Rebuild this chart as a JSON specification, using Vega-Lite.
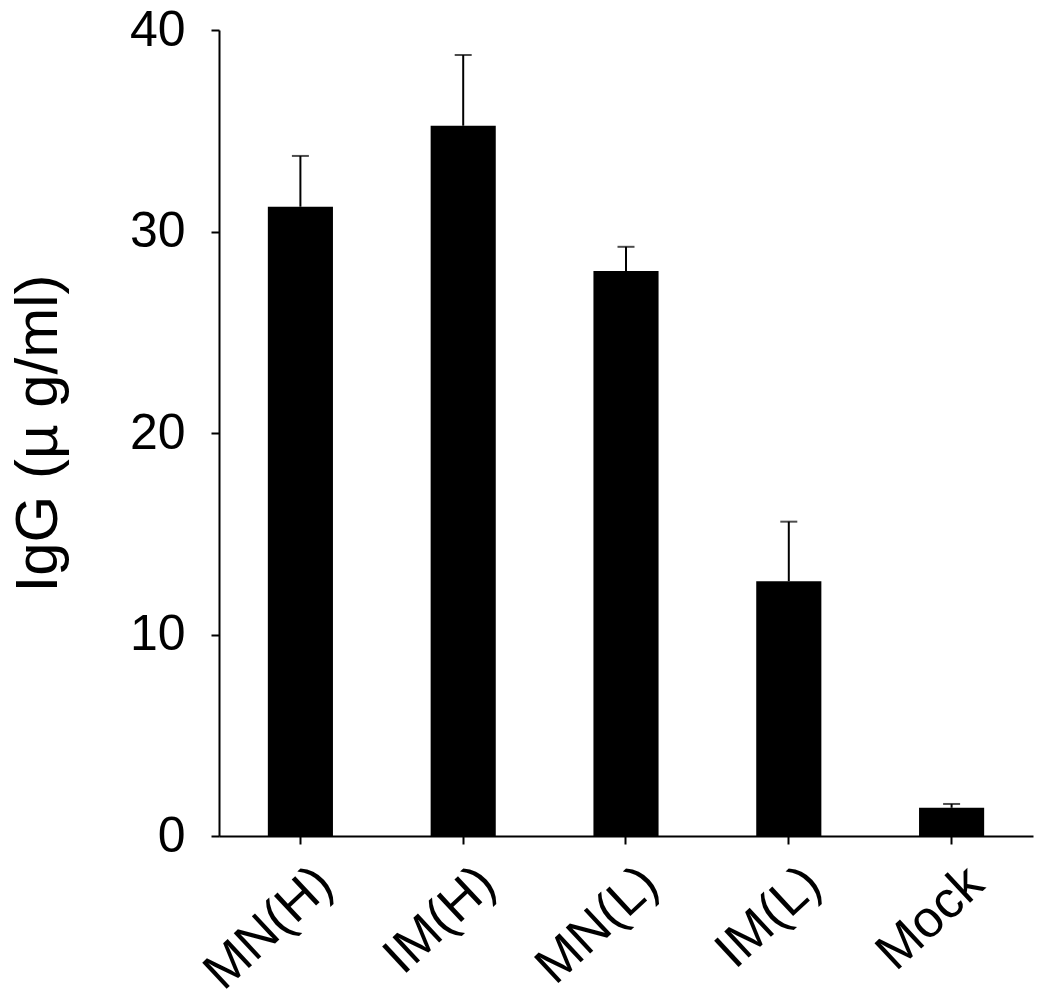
{
  "$schema": "https://vega.github.io/schema/vega-lite/v6.json",
  "width": 814,
  "height": 806,
  "autosize": "none",
  "padding": {"left": 219, "top": 30, "right": 17, "bottom": 172},
  "background": "white",
  "config": {
    "view": {"stroke": null},
    "font": "Liberation Sans",
    "axis": {"grid": false, "domainColor": "black", "domainWidth": 2, "tickColor": "black", "tickWidth": 2, "tickSize": 8, "labelColor": "black", "titleColor": "black", "labelFont": "Liberation Sans", "titleFont": "Liberation Sans"}
  },
  "data": {
    "values": [
      {"group": "MN(H)", "mean": 31.23, "upper": 33.75},
      {"group": "IM(H)", "mean": 35.25, "upper": 38.76},
      {"group": "MN(L)", "mean": 28.04, "upper": 29.24},
      {"group": "IM(L)", "mean": 12.64, "upper": 15.6},
      {"group": "Mock", "mean": 1.4, "upper": 1.59}
    ]
  },
  "encoding": {
    "x": {
      "field": "group", "type": "nominal", "sort": null,
      "scale": {"paddingInner": 0.6, "paddingOuter": 0.3},
      "axis": {"title": null, "labelAngle": -43, "labelFontSize": 52, "labelPadding": 13, "labelOffset": 7}
    }
  },
  "layer": [
    {
      "mark": {"type": "bar", "color": "black"},
      "encoding": {
        "y": {
          "field": "mean", "type": "quantitative",
          "scale": {"domain": [0, 40], "nice": false},
          "axis": {"values": [0, 10, 20, 30, 40], "title": "IgG (µ g/ml)", "titleFontSize": 60, "titleFontWeight": "normal", "labelFontSize": 50, "labelPadding": 26, "titlePadding": 60}
        }
      }
    },
    {
      "mark": {"type": "rule", "color": "black", "strokeWidth": 2},
      "encoding": {
        "y": {"field": "mean", "type": "quantitative"},
        "y2": {"field": "upper"}
      }
    },
    {
      "mark": {"type": "tick", "color": "black", "thickness": 2, "size": 17, "orient": "horizontal"},
      "encoding": {
        "y": {"field": "upper", "type": "quantitative"}
      }
    }
  ]
}
